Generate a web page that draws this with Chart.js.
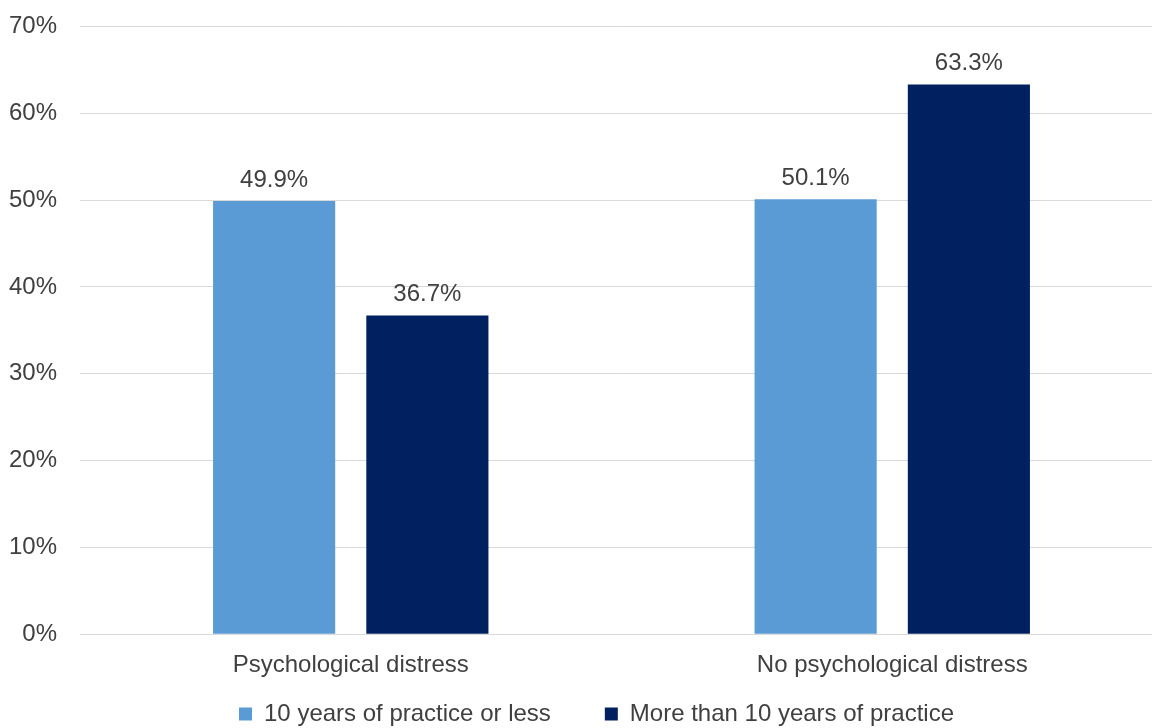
<!DOCTYPE html>
<html>
<head>
<meta charset="utf-8">
<script src="https://cdn.jsdelivr.net/npm/chart.js@4.4.0/dist/chart.umd.min.js"></script>
<style>
  html, body { margin: 0; padding: 0; background: #fff; }
  #wrap { width: 1152px; height: 728px; overflow: hidden; position: relative; }
  #grafico { position: absolute; left: 0; top: 0; }
</style>
</head>
<body>
<div id="wrap">
  <canvas id="grafico" width="1176" height="785"></canvas>
</div>
<script>
// dados do gráfico
const categorias = ["Psychological distress", "No psychological distress"];
const rotulosSeries = ["10 years of practice or less", "More than 10 years of practice"];
const menosDez = [49.9, 50.1];
const maisDez = [36.7, 63.3];
const ticksY = [0, 10, 20, 30, 40, 50, 60, 70];

const corTexto = "#404040";
const fonte = "'Liberation Sans', Arial, sans-serif";

// plugin simples: valores em cima das barras e ajuste da legenda
const rotulosBarras = {
  id: "rotulosBarras",
  afterLayout(chart) {
    // legenda um pouco para a direita e para cima, como no original
    chart.legend.left += 15;
    chart.legend.right += 15;
    chart.legend.top -= 49;
    chart.legend.bottom -= 49;
  },
  afterDatasetsDraw(chart) {
    const ctx = chart.ctx;
    ctx.save();
    ctx.font = "24px " + fonte;
    ctx.fillStyle = corTexto;
    ctx.textAlign = "center";
    ctx.textBaseline = "middle";
    chart.data.datasets.forEach((ds, i) => {
      chart.getDatasetMeta(i).data.forEach((bar, j) => {
        ctx.fillText(ds.data[j].toFixed(1) + "%", bar.x, bar.y - 21);
      });
    });
    ctx.restore();
  },
};

let grafico = document.getElementById("grafico");
const config = {
  type: "bar",
  data: {
    labels: categorias,
    datasets: [
      {
        label: rotulosSeries[0],
        data: menosDez,
        backgroundColor: "#5B9BD5",
        categoryPercentage: 0.566,
        barPercentage: 0.797,
      },
      {
        label: rotulosSeries[1],
        data: maisDez,
        backgroundColor: "#002060",
        categoryPercentage: 0.566,
        barPercentage: 0.797,
      },
    ],
  },
  options: {
    responsive: false,
    animation: false,
    layout: {
      padding: { top: 0, right: 13, left: 0, bottom: 0 },
    },
    plugins: {
      legend: {
        display: true,
        position: "bottom",
        labels: {
          boxWidth: 13,
          boxHeight: 13,
          padding: 54,
          color: corTexto,
          font: { family: fonte, size: 24 },
        },
      },
      tooltip: { enabled: false },
    },
    scales: {
      x: {
        grid: { display: false, drawTicks: false },
        border: { color: "#d9d9d9", width: 1 },
        ticks: {
          color: corTexto,
          padding: 17,
          font: { family: fonte, size: 24 },
        },
      },
      y: {
        min: 0,
        max: 70,
        afterBuildTicks(scale) {
          scale.ticks = ticksY.map((v) => ({ value: v }));
        },
        afterFit(scale) {
          scale.width = 80;
        },
        grid: { color: "#d9d9d9", tickLength: 11, tickColor: "rgba(0,0,0,0)" },
        border: { display: false },
        ticks: {
          color: corTexto,
          padding: 12,
          font: { family: fonte, size: 24 },
          callback: (v) => v + "%",
        },
      },
    },
  },
  plugins: [rotulosBarras],
};

let meuGrafico = new Chart(grafico, config);
</script>
</body>
</html>
